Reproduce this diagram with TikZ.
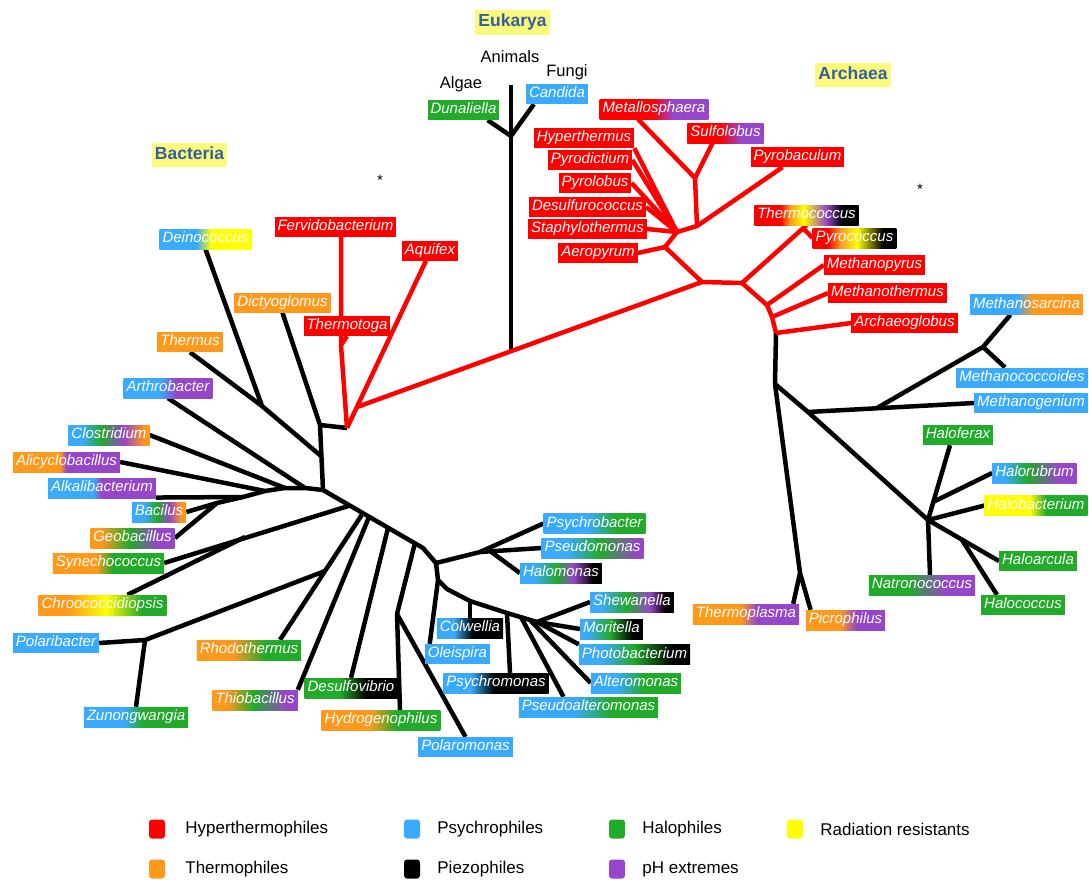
\documentclass[tikz,border=0pt]{standalone}
\usepackage{fontspec}
\setmainfont{Liberation Sans}
\usetikzlibrary{positioning}

\definecolor{hyp}{RGB}{255,0,0}
\definecolor{thr}{RGB}{255,153,28}
\definecolor{psy}{RGB}{58,170,255}
\definecolor{hal}{RGB}{34,170,42}
\definecolor{rad}{RGB}{255,255,0}
\definecolor{pie}{RGB}{0,0,0}
\definecolor{phx}{RGB}{150,70,200}
\definecolor{ttlc}{RGB}{52,96,160}
\definecolor{ttlbg}{RGB}{252,250,125}

\pgfdeclarelayer{bg}
\pgfsetlayers{bg,main}

\newcommand\hsh[2]{\pgfdeclarehorizontalshading{#1}{100bp}{#2}}
\hsh{shDein}{color(0bp)=(psy); color(45bp)=(psy); color(53bp)=(rad); color(100bp)=(rad)}
\hsh{shArth}{color(0bp)=(psy); color(45bp)=(psy); color(55bp)=(phx); color(100bp)=(phx)}
\hsh{shClos}{color(0bp)=(psy); color(33bp)=(psy); color(45bp)=(hal); color(59bp)=(phx); color(72bp)=(thr); color(100bp)=(thr)}
\hsh{shAlic}{color(0bp)=(thr); color(47bp)=(thr); color(50bp)=(phx); color(100bp)=(phx)}
\hsh{shAlka}{color(0bp)=(psy); color(46bp)=(psy); color(49.5bp)=(phx); color(100bp)=(phx)}
\hsh{shBaci}{color(0bp)=(psy); color(36.5bp)=(psy); color(48bp)=(hal); color(59.5bp)=(phx); color(70.5bp)=(thr); color(100bp)=(thr)}
\hsh{shGeob}{color(0bp)=(thr); color(31bp)=(thr); color(48.5bp)=(hal); color(64.5bp)=(phx); color(100bp)=(phx)}
\hsh{shSyne}{color(0bp)=(thr); color(44.5bp)=(thr); color(52bp)=(hal); color(100bp)=(hal)}
\hsh{shChro}{color(0bp)=(thr); color(36.5bp)=(thr); color(51.5bp)=(rad); color(65.5bp)=(hal); color(100bp)=(hal)}
\hsh{shZuno}{color(0bp)=(psy); color(44bp)=(psy); color(53.5bp)=(hal); color(100bp)=(hal)}
\hsh{shRhod}{color(0bp)=(thr); color(42bp)=(thr); color(58bp)=(hal); color(100bp)=(hal)}
\hsh{shThio}{color(0bp)=(thr); color(33.5bp)=(thr); color(49bp)=(hal); color(68.5bp)=(phx); color(100bp)=(phx)}
\hsh{shDesu}{color(0bp)=(hal); color(44bp)=(hal); color(58.5bp)=(pie); color(100bp)=(pie)}
\hsh{shHydr}{color(0bp)=(thr); color(45.5bp)=(thr); color(56.5bp)=(hal); color(100bp)=(hal)}
\hsh{shColw}{color(0bp)=(psy); color(37.5bp)=(psy); color(52.5bp)=(pie); color(100bp)=(pie)}
\hsh{shPsms}{color(0bp)=(psy); color(38bp)=(psy); color(49bp)=(pie); color(100bp)=(pie)}
\hsh{shPsal}{color(0bp)=(psy); color(44.5bp)=(psy); color(58.5bp)=(hal); color(100bp)=(hal)}
\hsh{shAlte}{color(0bp)=(psy); color(39.5bp)=(psy); color(54bp)=(hal); color(100bp)=(hal)}
\hsh{shPhot}{color(0bp)=(psy); color(35bp)=(psy); color(49.5bp)=(hal); color(67bp)=(pie); color(100bp)=(pie)}
\hsh{shMori}{color(0bp)=(psy); color(30bp)=(psy); color(48.5bp)=(hal); color(67bp)=(pie); color(100bp)=(pie)}
\hsh{shShew}{color(0bp)=(psy); color(31bp)=(psy); color(47bp)=(hal); color(60.5bp)=(phx); color(70bp)=(pie); color(100bp)=(pie)}
\hsh{shHalm}{color(0bp)=(psy); color(33.5bp)=(psy); color(47.5bp)=(hal); color(57.5bp)=(phx); color(69.5bp)=(pie); color(100bp)=(pie)}
\hsh{shPsdm}{color(0bp)=(psy); color(37.5bp)=(psy); color(53.5bp)=(hal); color(72.5bp)=(phx); color(100bp)=(phx)}
\hsh{shPsyb}{color(0bp)=(psy); color(46.5bp)=(psy); color(60.5bp)=(hal); color(100bp)=(hal)}
\hsh{shMtls}{color(0bp)=(hyp); color(49.5bp)=(hyp); color(58.5bp)=(phx); color(100bp)=(phx)}
\hsh{shSulf}{color(0bp)=(hyp); color(46.5bp)=(hyp); color(59.5bp)=(phx); color(100bp)=(phx)}
\hsh{shTcoc}{color(0bp)=(hyp); color(37.5bp)=(hyp); color(42bp)=(thr); color(48.5bp)=(rad); color(59.5bp)=(phx); color(67bp)=(pie); color(100bp)=(pie)}
\hsh{shPcoc}{color(0bp)=(hyp); color(34bp)=(hyp); color(41.5bp)=(thr); color(51.5bp)=(rad); color(67bp)=(pie); color(100bp)=(pie)}
\hsh{shMsar}{color(0bp)=(psy); color(45.5bp)=(psy); color(53bp)=(thr); color(100bp)=(thr)}
\hsh{shHrub}{color(0bp)=(psy); color(32bp)=(psy); color(45.5bp)=(hal); color(65bp)=(phx); color(100bp)=(phx)}
\hsh{shHbac}{color(0bp)=(rad); color(47bp)=(rad); color(55bp)=(hal); color(100bp)=(hal)}
\hsh{shNatr}{color(0bp)=(hal); color(43bp)=(hal); color(61.5bp)=(phx); color(100bp)=(phx)}
\hsh{shThpl}{color(0bp)=(thr); color(47.5bp)=(thr); color(55bp)=(phx); color(100bp)=(phx)}
\hsh{shPicr}{color(0bp)=(thr); color(46.5bp)=(thr); color(57bp)=(phx); color(100bp)=(phx)}

\tikzset{
  lab/.style={font=\itshape\fontsize{15}{18}\selectfont, text=white, inner xsep=3pt, inner ysep=2.75pt, text height=11pt, text depth=3.5pt},
  hy/.style={lab, fill=hyp},
  ps/.style={lab, fill=psy},
  th/.style={lab, fill=thr},
  ha/.style={lab, fill=hal},
  gr/.style={lab, shade, shading=#1},
  ttl/.style={font=\bfseries\fontsize{17.5}{20}\selectfont, text=ttlc, fill=ttlbg, inner xsep=3pt, inner ysep=4pt, text height=12.5pt, text depth=4pt},
  grp/.style={font=\fontsize{16.5}{20}\selectfont, inner sep=0pt},
  astk/.style={font=\fontsize{15}{17}\selectfont, inner sep=0pt},
  br/.style={line width=4.5pt, line join=round},
  bbr/.style={br, draw=black},
  rbr/.style={br, draw=hyp},
  key/.style={rounded corners=3pt, minimum width=16pt, minimum height=19pt, inner sep=0pt},
  keytxt/.style={font=\fontsize{17}{20}\selectfont, inner sep=0pt, anchor=west}
}

\begin{document}
\begin{tikzpicture}[x=1pt, y=-1pt]
\useasboundingbox (0,0) rectangle (1089,879);

\node[ttl] (euk) at (512.5,22.5) {Eukarya};
\node[ttl] (arc) at (853,75) {Archaea};
\node[ttl] (bac) at (189.5,155) {Bacteria};
\node[grp] (anim) at (510,57) {Animals};
\node[grp] (alga) at (461,84) {Algae};
\node[grp] (fung) at (567,72) {Fungi};
\node[astk] (ast1) at (380,180) {*};
\node[astk] (ast2) at (920,189) {*};

\node[ha] (dun) at (463.5,110) {Dunaliella};
\node[ps] (cand) at (557,94) {Candida};

\node[gr=shDein] (dein) at (205.5,239) {Deinococcus};
\node[hy] (ferv) at (335.5,227) {Fervidobacterium};
\node[hy] (aqui) at (430,250.5) {Aquifex};
\node[th] (dict) at (282.5,302.5) {Dictyoglomus};
\node[hy] (thtoga) at (347,326) {Thermotoga};
\node[th] (therm) at (190,342) {Thermus};
\node[gr=shArth] (arth) at (168,388) {Arthrobacter};
\node[gr=shClos] (clos) at (109,435) {Clostridium};
\node[gr=shAlic] (alic) at (66.5,462) {Alicyclobacillus};
\node[gr=shAlka] (alka) at (102,488) {Alkalibacterium};
\node[gr=shBaci] (baci) at (159,512) {Bacilus};
\node[gr=shGeob] (geob) at (132.5,538) {Geobacillus};
\node[gr=shSyne] (syne) at (108.5,563) {Synechococcus};
\node[gr=shChro] (chro) at (102.5,605) {Chroococcidiopsis};
\node[ps] (pola) at (56,643) {Polaribacter};
\node[gr=shZuno] (zuno) at (136,717) {Zunongwangia};
\node[gr=shRhod] (rhod) at (249,650) {Rhodothermus};
\node[gr=shThio] (thio) at (255,700) {Thiobacillus};
\node[gr=shDesu] (desu) at (351,688) {Desulfovibrio};
\node[gr=shHydr] (hydr) at (381,720) {Hydrogenophilus};
\node[ps] (polm) at (465.5,747) {Polaromonas};
\node[ps] (olei) at (457.5,654) {Oleispira};
\node[gr=shColw] (colw) at (470,628) {Colwellia};
\node[gr=shPsms] (psyms) at (496,683) {Psychromonas};
\node[gr=shPsal] (psalt) at (588.5,707) {Pseudoalteromonas};
\node[gr=shAlte] (alte) at (636,683) {Alteromonas};
\node[gr=shPhot] (phot) at (634.5,654.5) {Photobacterium};
\node[gr=shMori] (mori) at (611.5,629) {Moritella};
\node[gr=shShew] (shew) at (632,602) {Shewanella};
\node[gr=shHalm] (halm) at (561,573) {Halomonas};
\node[gr=shPsdm] (psdm) at (592.5,548) {Pseudomonas};
\node[gr=shPsyb] (psyb) at (594.5,523.5) {Psychrobacter};

\node[hy] (hypt) at (584,138) {Hyperthermus};
\node[hy] (pdic) at (590,160) {Pyrodictium};
\node[hy] (plob) at (595,183) {Pyrolobus};
\node[hy] (dsfc) at (587.5,207) {Desulfurococcus};
\node[hy] (stph) at (587.5,229) {Staphylothermus};
\node[hy] (aero) at (598,253) {Aeropyrum};
\node[gr=shMtls] (mtls) at (654,109) {Metallosphaera};
\node[gr=shSulf] (sulf) at (725.5,133) {Sulfolobus};
\node[hy] (pbac) at (797.5,157) {Pyrobaculum};
\node[gr=shTcoc] (tcoc) at (806.5,215) {Thermococcus};
\node[gr=shPcoc] (pcoc) at (854.5,238) {Pyrococcus};
\node[hy] (mpyr) at (874.5,265) {Methanopyrus};
\node[hy] (mthe) at (887.5,293) {Methanothermus};
\node[hy] (aglo) at (904.5,323) {Archaeoglobus};
\node[gr=shThpl] (thpl) at (746,614) {Thermoplasma};
\node[gr=shPicr] (picr) at (845.5,620) {Picrophilus};
\node[gr=shMsar] (msar) at (1026.5,304.5) {Methanosarcina};
\node[ps] (mcoc) at (1022,377.5) {Methanococcoides};
\node[ps] (mgen) at (1031,403) {Methanogenium};
\node[ha] (hfer) at (958,435) {Haloferax};
\node[gr=shHrub] (hrub) at (1034.5,473) {Halorubrum};
\node[gr=shHbac] (hbac) at (1036,505.5) {Halobacterium};
\node[ha] (harc) at (1038,561) {Haloarcula};
\node[ha] (hcoc) at (1023,605) {Halococcus};
\node[gr=shNatr] (natr) at (922,585) {Natronococcus};

\coordinate (eT) at (511,85);
\coordinate (eJ) at (511,136);
\coordinate (eB) at (511,351);
\coordinate (rA) at (347,428);
\coordinate (rB) at (357,407);
\coordinate (rT) at (341,345);
\coordinate (aR) at (702,282);
\coordinate (bE) at (320,425);
\coordinate (bA) at (323,490);
\coordinate (bTh) at (262,406);
\coordinate (bTm) at (321,456);
\coordinate (bAr) at (305,488);
\coordinate (bCl) at (285,488);
\coordinate (bAc) at (265,491);
\coordinate (bAk) at (243,497);
\coordinate (bL) at (217,503);
\coordinate (bB) at (350,505.5);
\coordinate (bR) at (363,513);
\coordinate (bTb) at (369,517);
\coordinate (bDs) at (388,528);
\coordinate (bHs) at (415,543);
\coordinate (bC) at (423,548);
\coordinate (bG) at (436,563);
\coordinate (bOl) at (438,580);
\coordinate (bK) at (447,589);
\coordinate (bCw) at (470,601);
\coordinate (bPm) at (507,613);
\coordinate (bPa) at (521,617);
\coordinate (bAl) at (530,620);
\coordinate (bSh) at (537,622);
\coordinate (bPs) at (480,552);
\coordinate (bHm) at (490,551);
\coordinate (bH) at (397,614);
\coordinate (bRp) at (325,571);
\coordinate (bP) at (145,640);
\coordinate (bSc) at (245,537);
\coordinate (aC1) at (665,247);
\coordinate (aC2) at (677,232);
\coordinate (aC3) at (697,226);
\coordinate (aSu) at (695,178);
\coordinate (aE1) at (742,283);
\coordinate (aTc) at (803,228);
\coordinate (aE2) at (767,305);
\coordinate (aE3) at (772,317);
\coordinate (aE4) at (776,333);
\coordinate (aK2) at (775,384);
\coordinate (aTh) at (800,573);
\coordinate (aM) at (808,412);
\coordinate (aMj) at (877,408);
\coordinate (aMs) at (983,347);
\coordinate (aH) at (928,520);
\coordinate (aHr) at (933,502);
\coordinate (aHc) at (962,540);

\begin{pgfonlayer}{bg}
\draw[bbr] (eB) -- (eT);
\draw[bbr] ([xshift=-12pt]dun.south east) -- (eJ) -- ([xshift=8pt]cand.south west);
\draw[bbr] (dict.south) -- (bE) -- (bA);
\draw[bbr] (bE) -- (rA);
\draw[bbr] (dein.south) -- (bTh);
\draw[bbr] (therm.south) -- (bTh) -- (bTm);
\draw[bbr] (bA) -- (bAr) -- (bCl) -- (bAc) -- (bAk) -- (bL);
\draw[bbr] (arth.south) -- (bAr);
\draw[bbr] (clos.east) -- (bCl);
\draw[bbr] (alic.east) -- (bAc);
\draw[bbr] (alka.-10) -- (bAk);
\draw[bbr] (baci.east) -- (bL) -- (geob.east);
\draw[bbr] (syne.east) -- (bB);
\draw[bbr] ([xshift=25pt]chro.north) -- (bSc);
\draw[bbr] (pola.east) -- (bP) -- (bRp);
\draw[bbr] (zuno.north) -- (bP);
\draw[bbr] (bA) -- (bC) -- (bG) -- (bOl) -- (bK) -- (bCw) -- (bPm) -- (bSh);
\draw[bbr] ([xshift=31pt]rhod.north) -- (bR);
\draw[bbr] (thio.north east) -- (bTb);
\draw[bbr] (desu.north) -- (bDs);
\draw[bbr] (bHs) -- (bH) -- ([xshift=19pt]hydr.north);
\draw[bbr] (bH) -- (polm.north);
\draw[bbr] ([xshift=5pt]olei.north west) -- (bOl);
\draw[bbr] (bG) -- (bPs) -- (psyb.west);
\draw[bbr] (bPs) -- (psdm.west);
\draw[bbr] (bHm) -- (halm.west);
\draw[bbr] (bCw) -- (colw.north);
\draw[bbr] (bPm) -- ([xshift=14pt]psyms.north);
\draw[bbr] (bPa) -- ([xshift=-25pt]psalt.north);
\draw[bbr] (bAl) -- (alte.west);
\draw[bbr] (bSh) -- (shew.west);
\draw[bbr] (bSh) -- (mori.west);
\draw[bbr] (bSh) -- (phot.north west);
\draw[bbr] (aE4) -- (aK2) -- (aTh) -- ([xshift=-6pt]thpl.north east);
\draw[bbr] (aTh) -- ([xshift=5pt]picr.north west);
\draw[bbr] (aK2) -- (aM) -- (aH);
\draw[bbr] (aM) -- (mgen.west);
\draw[bbr] (aMj) -- (aMs) -- ([xshift=-16pt]msar.south);
\draw[bbr] (aMs) -- ([xshift=-17pt]mcoc.north);
\draw[bbr] ([xshift=-8pt]hfer.south) -- (aH);
\draw[bbr] (hrub.west) -- (aHr);
\draw[bbr] (hbac.west) -- (aH);
\draw[bbr] (aH) -- ([xshift=8pt]natr.north);
\draw[bbr] (aH) -- (harc.west);
\draw[bbr] (aHc) -- ([xshift=-26pt]hcoc.north);
\draw[rbr] (rT |- ferv.south) -- (rT) -- (rA);
\draw[rbr] (thtoga.south) -- (rT);
\draw[rbr] ([xshift=-4pt]aqui.south) -- (rA);
\draw[rbr] (rB) -- (aR);
\draw[rbr] (aR) -- (aC1) -- (aero.east);
\draw[rbr] (aC1) -- (aC2) -- (aC3) -- (aSu) -- ([xshift=-16pt]mtls.south);
\draw[rbr] (aSu) -- ([xshift=-13pt]sulf.south);
\draw[rbr] (aC3) -- ([xshift=-15pt]pbac.south);
\draw[rbr] (aC2) -- (hypt.south east);
\draw[rbr] (aC2) -- (pdic.east);
\draw[rbr] (aC2) -- (plob.east);
\draw[rbr] (aC2) -- (dsfc.east);
\draw[rbr] (aC2) -- (stph.east);
\draw[rbr] (aR) -- (aE1) -- (tcoc.south);
\draw[rbr] (aTc) -- (pcoc.west);
\draw[rbr] (aE1) -- (aE2) -- (aE3) -- (aE4);
\draw[rbr] (aE2) -- (mpyr.west);
\draw[rbr] (aE3) -- (mthe.west);
\draw[rbr] (aE4) -- (aglo.west);
\end{pgfonlayer}

\node[key, fill=hyp] (kHyp) at (157,829) {};
\node[keytxt, right=20pt of kHyp] (tHyp) {Hyperthermophiles};
\node[key, fill=psy] (kPsy) at (412,829) {};
\node[keytxt, right=17pt of kPsy] (tPsy) {Psychrophiles};
\node[key, fill=hal] (kHal) at (617,829) {};
\node[keytxt, right=17pt of kHal] (tHal) {Halophiles};
\node[key, fill=rad] (kRad) at (795,829) {};
\node[keytxt, right=17pt of kRad] (tRad) {Radiation resistants};
\node[key, fill=thr] (kThr) at (157,869) {};
\node[keytxt, right=20pt of kThr] (tThr) {Thermophiles};
\node[key, fill=pie] (kPie) at (412,869) {};
\node[keytxt, right=17pt of kPie] (tPie) {Piezophiles};
\node[key, fill=phx] (kPhx) at (617,869) {};
\node[keytxt, right=17pt of kPhx] (tPhx) {pH extremes};
\end{tikzpicture}
\end{document}
